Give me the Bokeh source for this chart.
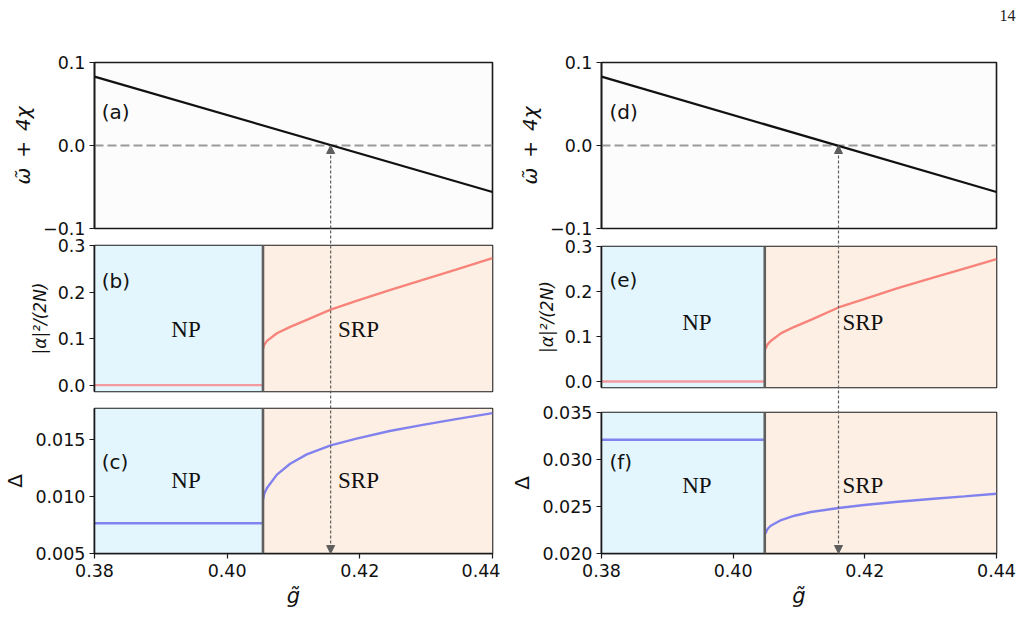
from bokeh.plotting import figure
from bokeh.layouts import row, column
from bokeh.models import (FixedTicker, Arrow, NormalHead, Label, Range1d,
                          BoxAnnotation, Span)
from bokeh.embed import file_html
from bokeh.resources import INLINE

# ---------------- data ----------------
x_ticks = [0.38, 0.40, 0.42, 0.44]
x_tick_labels = ["0.38", "0.40", "0.42", "0.44"]
omega_ticks = [-0.1, 0.0, 0.1]
omega_tick_labels = ["\u22120.1", "0.0", "0.1"]
alpha_ticks = [0.0, 0.1, 0.2, 0.3]
alpha_tick_labels = ["0.0", "0.1", "0.2", "0.3"]
delta_left_ticks = [0.005, 0.010, 0.015]
delta_left_tick_labels = ["0.005", "0.010", "0.015"]
delta_right_ticks = [0.020, 0.025, 0.030, 0.035]
delta_right_tick_labels = ["0.020", "0.025", "0.030", "0.035"]

g_range = [0.38, 0.44]
omega_range = [-0.1, 0.1]
omega_left = [0.083, -0.056]
omega_right = [0.083, -0.056]
zero_line = [0.0, 0.0]

gc_left = 0.4054
gc_right = 0.4048
g_mark_left = 0.4156
g_mark_right = 0.4160
mark_level = 0.0

# left column (a)-(c)
np_g_left = [0.38, 0.4054]
np_alpha_left = [0.0, 0.0]
np_delta_left = [0.00765, 0.00765]
srp_g_left = [0.4054, 0.4056, 0.4060, 0.4075, 0.4095, 0.4120, 0.4156,
              0.4195, 0.4245, 0.4295, 0.4345, 0.4400]
srp_alpha_left = [0.078, 0.087, 0.095, 0.1115, 0.125, 0.140, 0.162,
                  0.181, 0.204, 0.226, 0.248, 0.273]
srp_delta_left = [0.0097, 0.01025, 0.01074, 0.01191, 0.01286, 0.01368, 0.01447,
                  0.01506, 0.01573, 0.01626, 0.01677, 0.01729]

# right column (d)-(f)
np_g_right = [0.38, 0.4048]
np_alpha_right = [0.0, 0.0]
np_delta_right = [0.0321, 0.0321]
srp_g_right = [0.4049, 0.4052, 0.4057, 0.4073, 0.4093, 0.4118, 0.4160,
               0.4199, 0.4250, 0.4300, 0.4351, 0.4400]
srp_alpha_right = [0.072, 0.082, 0.090, 0.1075, 0.1216, 0.137, 0.1645,
                   0.183, 0.2075, 0.229, 0.251, 0.272]
srp_delta_right = [0.02213, 0.02258, 0.02295, 0.02356, 0.02402, 0.02441, 0.02484,
                   0.02516, 0.02551, 0.0258, 0.02608, 0.02636]

page_number = "14"

# ---------------- style / layout constants ----------------
FONT = "DejaVu Sans"
SERIF = "Liberation Serif"
NP_BG = "#e3f6fd"
SRP_BG = "#fdefe3"
SALMON = "#f8837a"
SALMON_NP = "#f49aa0"
BLUE = "#8282ee"
ARROW_C = "#5e5e5e"
TOTAL_W = 1025
TOTAL_H = 635
TOP_FRAME = 62          # top of panels (a)/(d)
A_FRAME_H = 166         # height of panels (a)/(d)
BOTTOM_BORDER = 82      # space below panels (c)/(f)
TICK_SIZE = "17.5px"


def make_panel(width, height, bl, br, bt, bb, x_range, y_start, y_end,
               ticks, labels, ylabel, ylabel_size, ylabel_style="italic",
               xaxis=False, bg="#ffffff", margin=None):
    p = figure(width=width, height=height, x_range=x_range,
               y_range=Range1d(y_start, y_end),
               output_backend="svg", toolbar_location=None,
               x_axis_location="below" if xaxis else None,
               min_border_left=bl, min_border_right=br,
               min_border_top=bt, min_border_bottom=bb,
               background_fill_color=bg, border_fill_alpha=0.0,
               margin=margin)
    p.grid.visible = False
    p.outline_line_color = "#1a1a1a"
    p.outline_line_width = 1.6
    axes = list(p.yaxis) + (list(p.xaxis) if xaxis else [])
    for ax in axes:
        ax.axis_line_color = "#1a1a1a"
        ax.axis_line_width = 1.6
        ax.major_tick_out = 5
        ax.major_tick_in = 0
        ax.minor_tick_out = 0
        ax.minor_tick_in = 0
        ax.major_tick_line_color = "#1a1a1a"
        ax.major_tick_line_width = 1.2
        ax.major_label_text_font = FONT
        ax.major_label_text_font_size = TICK_SIZE
        ax.major_label_text_color = "#111111"
        ax.axis_label_text_font = FONT
        ax.axis_label_text_color = "#111111"
    yax = p.yaxis[0]
    yax.ticker = FixedTicker(ticks=ticks)
    yax.major_label_overrides = dict(zip(ticks, labels))
    yax.major_label_standoff = 4
    yax.axis_label = ylabel
    yax.axis_label_text_font_size = ylabel_size
    yax.axis_label_text_font_style = ylabel_style
    yax.axis_label_standoff = 5
    if xaxis:
        xax = p.xaxis[0]
        xax.ticker = FixedTicker(ticks=x_ticks)
        xax.major_label_overrides = dict(zip(x_ticks, x_tick_labels))
        xax.major_label_standoff = 5
        xax.axis_label = "g\u0303"
        xax.axis_label_text_font_size = "21px"
        xax.axis_label_text_font_style = "italic"
        xax.axis_label_standoff = 4
    return p


def add_label(p, x, y, text, size, font=FONT, align="left"):
    p.add_layout(Label(x=x, y=y, text=text, text_font=font,
                       text_font_size=size, text_align=align,
                       text_baseline="middle", text_color="#111111"))


def add_phases(p, gc):
    p.add_layout(BoxAnnotation(left=g_range[0], right=gc, fill_color=NP_BG,
                               fill_alpha=1.0, line_color=None, level="underlay"))
    p.add_layout(BoxAnnotation(left=gc, right=g_range[1], fill_color=SRP_BG,
                               fill_alpha=1.0, line_color=None, level="underlay"))
    p.add_layout(Span(location=gc, dimension="height", line_color="#5f5f5f",
                      line_width=2.6))


def overlay(width, bl, br, x_range, gm):
    # transparent figure laid over the whole column; its y scale continues
    # the scale of the top panel, so the arrow starts at that panel's zero line
    px_y = (omega_range[1] - omega_range[0]) / A_FRAME_H
    y_lo = omega_range[1] - (TOTAL_H - TOP_FRAME - BOTTOM_BORDER) * px_y
    y_hi = omega_range[1] + TOP_FRAME * px_y
    ov = figure(width=width, height=TOTAL_H, x_range=x_range,
                y_range=Range1d(y_lo, y_hi),
                x_axis_location=None, y_axis_location=None,
                min_border_left=bl, min_border_right=br,
                min_border_top=0, min_border_bottom=BOTTOM_BORDER,
                output_backend="svg", toolbar_location=None,
                background_fill_alpha=0.0, border_fill_alpha=0.0,
                outline_line_color=None, margin=(-TOTAL_H, 0, 0, 0))
    ov.grid.visible = False
    head = dict(size=8, fill_color=ARROW_C, line_color=ARROW_C, line_width=1)
    ov.add_layout(Arrow(start=NormalHead(**head), end=NormalHead(**head),
                        x_start=gm, y_start=mark_level, x_end=gm, y_end=y_lo,
                        line_color=ARROW_C, line_width=1.2, line_dash="3 2"))
    return ov


def build_column(omega, np_g, np_alpha, np_delta, srp_g, srp_alpha, srp_delta,
                 gc, gm, d_ticks, d_labels, d_range, geo, tags, np_pos, srp_pos,
                 tag_pos):
    width, bl, br = geo["w"], geo["bl"], geo["br"]
    xr = Range1d(g_range[0], g_range[1])
    # top panel
    pa = make_panel(width, 246, bl, br, TOP_FRAME, 246 - TOP_FRAME - A_FRAME_H,
                    xr, omega_range[0], omega_range[1], omega_ticks,
                    omega_tick_labels, "\u03c9\u0303\u2002+\u20024\u03c7", "20px",
                    bg="#fcfcfc")
    pa.line(g_range, zero_line, line_color="#9a9a9a", line_width=2,
            line_dash="9 4")
    pa.line(g_range, omega, line_color="#111111", line_width=2.2)
    add_label(pa, tag_pos[0], 0.040, tags[0], "20px")

    # middle panel
    pb = make_panel(width, 163, bl, br, geo["bt_b"], geo["bb_b"], xr,
                    geo["b_lo"], 0.3, alpha_ticks, alpha_tick_labels,
                    "|\u03b1|\u00b2/(2N)", "17px", margin=(-10, 0, 0, 0))
    add_phases(pb, gc)
    pb.line(np_g, np_alpha, line_color=SALMON_NP, line_width=2.4)
    pb.line(srp_g, srp_alpha, line_color=SALMON, line_width=2.4)
    add_label(pb, tag_pos[0], tag_pos[1], tags[1], "20px")
    add_label(pb, np_pos[0], np_pos[1], "NP", "23px", SERIF, "center")
    add_label(pb, srp_pos[0], np_pos[1], "SRP", "23px", SERIF, "center")

    # bottom panel
    pc = make_panel(width, 236, bl, br, geo["bt_c"], BOTTOM_BORDER, xr,
                    d_range[0], d_range[1], d_ticks, d_labels, "\u0394", "20px",
                    ylabel_style="normal", xaxis=True)
    add_phases(pc, gc)
    pc.line(np_g, np_delta, line_color=BLUE, line_width=2.4)
    pc.line(srp_g, srp_delta, line_color=BLUE, line_width=2.4)
    add_label(pc, tag_pos[0], tag_pos[2], tags[2], "20px")
    add_label(pc, np_pos[0], np_pos[2], "NP", "23px", SERIF, "center")
    add_label(pc, srp_pos[0], np_pos[2], "SRP", "23px", SERIF, "center")

    ov = overlay(width, bl, br, xr, gm)
    return column(pa, pb, pc, ov, spacing=0)


col_left = build_column(
    omega_left, np_g_left, np_alpha_left, np_delta_left, srp_g_left,
    srp_alpha_left, srp_delta_left, gc_left, g_mark_left,
    delta_left_ticks, delta_left_tick_labels, (0.005, 0.0177),
    dict(w=500, bl=92, br=8, bt_b=9, bb_b=8, b_lo=-0.0137, bt_c=9),
    ["(a)", "(b)", "(c)"], (0.3938, 0.120, 0.01143), (0.4198,),
    (0.3811, 0.224, 0.01304))

col_right = build_column(
    omega_right, np_g_right, np_alpha_right, np_delta_right, srp_g_right,
    srp_alpha_right, srp_delta_right, gc_right, g_mark_right,
    delta_right_ticks, delta_right_tick_labels, (0.020, 0.035),
    dict(w=525, bl=101, br=29, bt_b=10, bb_b=12, b_lo=-0.0133, bt_c=13),
    ["(d)", "(e)", "(f)"], (0.3945, 0.131, 0.02722), (0.4197,),
    (0.3812, 0.2253, 0.0297))

# page-sized transparent layer (pixel coordinates) carrying the page number
page = figure(width=TOTAL_W, height=TOTAL_H, x_range=Range1d(0, TOTAL_W),
              y_range=Range1d(TOTAL_H, 0), x_axis_location=None,
              y_axis_location=None, min_border=0, output_backend="svg",
              toolbar_location=None, background_fill_alpha=0.0,
              border_fill_alpha=0.0, outline_line_color=None,
              margin=(-TOTAL_H, 0, 0, 0))
page.grid.visible = False
page.add_layout(Label(x=1015, y=15, text=page_number, text_font=SERIF,
                      text_font_size="16px", text_align="right",
                      text_baseline="middle", text_color="#222222"))

layout = column(row(col_left, col_right, spacing=0), page, spacing=0)

open("out.html", "w").write(file_html(layout, INLINE))
